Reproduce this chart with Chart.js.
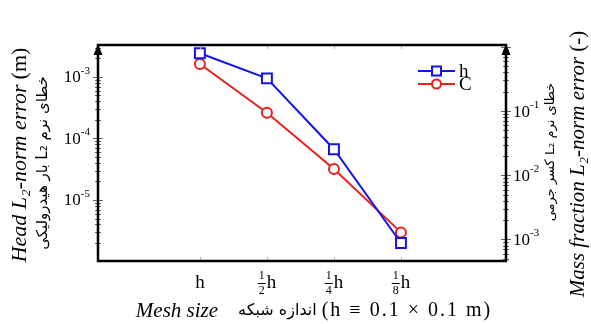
<!DOCTYPE html>
<html>
<head>
<meta charset="utf-8">
<script src="https://cdn.jsdelivr.net/npm/chart.js@4"></script>
<style>
  html, body { margin: 0; padding: 0; background: #fff; }
</style>
</head>
<body>
<canvas id="errChart" width="591" height="324"></canvas>
<script>
// mesh levels (x positions are the level index)
const meshIdx = [0, 1, 2, 3];
const meshLabels = ['h', '1/2 h', '1/4 h', '1/8 h'];
const headErr = [2.43e-3, 9.5e-4, 6.7e-5, 2.0e-6];   // left axis, series "h"
const massErr = [0.542, 0.0944, 0.0125, 0.00129];    // right axis, series "C"
const leftTicks = [1e-3, 1e-4, 1e-5];
const rightTicks = [1e-1, 1e-2, 1e-3];

const SERIF = '"Liberation Serif", "Times New Roman", serif';
const FA = '"DejaVu Sans", sans-serif';
const BLUE = '#1414e6';
const RED = '#e8201e';

function pts(ys) {
  return meshIdx.map((x, i) => ({ x: x, y: ys[i] }));
}

// draw a row of text pieces with different fonts, centred on (cx, cy)
function drawRuns(ctx, runs, cx, cy) {
  let total = 0;
  runs.forEach(r => {
    ctx.font = r.font;
    ctx.letterSpacing = (r.ls || 0) + 'px';
    r.w = ctx.measureText(r.text).width;
    total += r.w + (r.gap || 0);
  });
  let x = cx - total / 2;
  ctx.textBaseline = 'middle';
  runs.forEach(r => {
    ctx.font = r.font;
    ctx.letterSpacing = (r.ls || 0) + 'px';
    ctx.direction = r.rtl ? 'rtl' : 'ltr';
    ctx.textAlign = r.rtl ? 'right' : 'left';
    ctx.fillText(r.text, r.rtl ? x + r.w : x, cy + (r.dy || 0));
    x += r.w + (r.gap || 0);
  });
  ctx.direction = 'ltr';
  ctx.letterSpacing = '0px';
}

// "10" with a raised exponent; anchor is left or right edge
function drawPow(ctx, v, x, y, alignRight) {
  const e = String(Math.round(Math.log10(v)));
  ctx.textBaseline = 'middle';
  ctx.textAlign = 'left';
  ctx.font = '17px ' + SERIF;
  const wb = ctx.measureText('10').width;
  ctx.font = '11px ' + SERIF;
  const we = ctx.measureText(e).width;
  const x0 = alignRight ? x - wb - we : x;
  ctx.font = '17px ' + SERIF;
  ctx.fillText('10', x0, y + 1);
  ctx.font = '11px ' + SERIF;
  ctx.fillText(e, x0 + wb, y - 6);
}

// "h" or a stacked fraction followed by "h", centred on x
function drawMeshLabel(ctx, label, x, y) {
  ctx.textBaseline = 'middle';
  ctx.fillStyle = '#000';
  const parts = label.split(' ');
  if (parts.length === 1) {
    ctx.font = '19px ' + SERIF;
    ctx.textAlign = 'center';
    ctx.fillText(parts[0], x, y);
    return;
  }
  const [num, den] = parts[0].split('/');
  ctx.font = '19px ' + SERIF;
  const wh = ctx.measureText(parts[1]).width;
  const wf = 8;
  const x0 = x - (wf + 1 + wh) / 2;
  ctx.font = '12px ' + SERIF;
  ctx.textAlign = 'center';
  ctx.fillText(num, x0 + wf / 2, y - 7);
  ctx.fillText(den, x0 + wf / 2, y + 8);
  ctx.fillRect(x0, y, wf, 1);
  ctx.font = '19px ' + SERIF;
  ctx.textAlign = 'left';
  ctx.fillText(parts[1], x0 + wf + 1, y);
}

const framePlugin = {
  id: 'frame',
  afterDatasetsDraw(chart) {
    const ctx = chart.ctx;
    const a = chart.chartArea;
    ctx.save();

    // small ticks on the y axes
    ctx.strokeStyle = '#666';
    ctx.lineWidth = 1;
    [['y', a.left], ['y2', a.right]].forEach(([id, ax]) => {
      const s = chart.scales[id];
      const lo = Math.floor(Math.log10(s.min)), hi = Math.ceil(Math.log10(s.max));
      for (let d = lo; d <= hi; d++) {
        for (let m = 1; m <= 9; m++) {
          const v = m * Math.pow(10, d);
          if (v < s.min || v > s.max) continue;
          const y = Math.round(s.getPixelForValue(v)) + 0.5;
          const len = m === 1 ? 5 : 3;
          ctx.beginPath();
          ctx.moveTo(ax - len, y);
          ctx.lineTo(ax + len, y);
          ctx.stroke();
        }
      }
    });
    // small ticks on the x axis
    const sx = chart.scales.x;
    ctx.strokeStyle = '#bbb';
    meshIdx.forEach(v => {
      const x = Math.round(sx.getPixelForValue(v)) + 0.5;
      ctx.beginPath();
      ctx.moveTo(x, a.bottom);
      ctx.lineTo(x, a.bottom - 4);
      ctx.moveTo(x, a.top);
      ctx.lineTo(x, a.top + 4);
      ctx.stroke();
    });

    // box
    ctx.strokeStyle = '#000';
    ctx.lineWidth = 2.5;
    ctx.strokeRect(a.left, a.top, a.right - a.left, a.bottom - a.top);

    // arrow heads on both y axes
    ctx.fillStyle = '#000';
    [a.left, a.right].forEach(x => {
      ctx.beginPath();
      ctx.moveTo(x, a.top - 1);
      ctx.lineTo(x - 4.5, a.top + 10);
      ctx.lineTo(x + 4.5, a.top + 10);
      ctx.closePath();
      ctx.fill();
    });

    // tick labels
    ctx.fillStyle = '#000';
    leftTicks.forEach(v => drawPow(ctx, v, a.left - 8, chart.scales.y.getPixelForValue(v), true));
    rightTicks.forEach(v => drawPow(ctx, v, a.right + 7, chart.scales.y2.getPixelForValue(v), false));
    meshIdx.forEach((v, i) => drawMeshLabel(ctx, meshLabels[i], sx.getPixelForValue(v), a.bottom + 22));

    // legend
    const lx = a.right - 88;
    const rows = [a.top + 26, a.top + 39];
    chart.data.datasets.forEach((ds, i) => {
      const y = rows[i];
      ctx.strokeStyle = ds.borderColor;
      ctx.lineWidth = 2;
      ctx.beginPath();
      ctx.moveTo(lx, y);
      ctx.lineTo(lx + 37, y);
      ctx.stroke();
      ctx.beginPath();
      if (ds.pointStyle === 'rect') {
        ctx.rect(lx + 18.5 - 4.5, y - 4.5, 9, 9);
      } else {
        ctx.arc(lx + 18.5, y, 4.5, 0, Math.PI * 2);
      }
      ctx.fillStyle = '#fff';
      ctx.fill();
      ctx.stroke();
      ctx.fillStyle = '#000';
      ctx.font = '19px ' + SERIF;
      ctx.textAlign = 'left';
      ctx.textBaseline = 'middle';
      ctx.fillText(ds.label, lx + 41, y + 1);
    });

    // axis titles
    ctx.fillStyle = '#000';
    drawRuns(ctx, [
      { text: 'Mesh size', font: 'italic 21px ' + SERIF, gap: 20 },
      { text: 'اندازه شبکه', font: '16px ' + FA, rtl: true, gap: 5 },
      { text: '(h ≡ 0.1 × 0.1 m)', font: '20px ' + SERIF, ls: 2 }
    ], 314, 311);

    ctx.save();
    ctx.translate(20, 155);
    ctx.rotate(-Math.PI / 2);
    drawRuns(ctx, [
      { text: 'Head L₂-norm error', font: 'italic 22px ' + SERIF, gap: 5 },
      { text: '(m)', font: '22px ' + SERIF }
    ], 0, 0);
    ctx.restore();

    ctx.save();
    ctx.translate(43, 163);
    ctx.rotate(-Math.PI / 2);
    drawRuns(ctx, [{ text: 'خطای نرم L₂ بار هیدرولیکی', font: '15px ' + FA, rtl: true }], 0, 0);
    ctx.restore();

    ctx.save();
    ctx.translate(551, 152);
    ctx.rotate(-Math.PI / 2);
    drawRuns(ctx, [{ text: 'خطای نرم L₂ کسر جرمی', font: '13px ' + FA, rtl: true }], 0, 0);
    ctx.restore();

    ctx.save();
    ctx.translate(578, 164);
    ctx.rotate(-Math.PI / 2);
    drawRuns(ctx, [
      { text: 'Mass fraction L₂-norm error', font: 'italic 21px ' + SERIF, gap: 5 },
      { text: '(-)', font: '21px ' + SERIF }
    ], 0, 0);
    ctx.restore();

    ctx.restore();
  }
};

new Chart(document.getElementById('errChart'), {
  type: 'line',
  data: {
    datasets: [
      {
        label: 'h',
        data: pts(headErr),
        yAxisID: 'y',
        borderColor: BLUE,
        backgroundColor: '#fff',
        borderWidth: 2,
        pointStyle: 'rect',
        pointRadius: 7,
        pointBorderWidth: 2,
        tension: 0
      },
      {
        label: 'C',
        data: pts(massErr),
        yAxisID: 'y2',
        borderColor: RED,
        backgroundColor: '#fff',
        borderWidth: 2,
        pointStyle: 'circle',
        pointRadius: 5,
        pointBorderWidth: 2,
        tension: 0
      }
    ]
  },
  options: {
    responsive: false,
    animation: false,
    layout: { padding: { top: 45, left: 0, right: 0, bottom: 0 } },
    plugins: { legend: { display: false }, tooltip: { enabled: false } },
    scales: {
      x: {
        type: 'linear',
        min: -1.52,
        max: 4.567,
        grid: { display: false },
        border: { display: false },
        afterBuildTicks: s => { s.ticks = meshIdx.map(v => ({ value: v })); },
        afterFit: s => { s.height = 63; },
        ticks: { display: false }
      },
      y: {
        type: 'logarithmic',
        position: 'left',
        min: 1.02e-6,
        max: 3.31e-3,
        grid: { display: false },
        border: { display: false },
        afterBuildTicks: s => { s.ticks = leftTicks.map(v => ({ value: v })); },
        afterFit: s => { s.width = 98; },
        ticks: { display: false }
      },
      y2: {
        type: 'logarithmic',
        position: 'right',
        min: 4.62e-4,
        max: 1.072,
        grid: { display: false },
        border: { display: false },
        afterBuildTicks: s => { s.ticks = rightTicks.map(v => ({ value: v })); },
        afterFit: s => { s.width = 85; },
        ticks: { display: false }
      }
    }
  },
  plugins: [framePlugin]
});
</script>
</body>
</html>
